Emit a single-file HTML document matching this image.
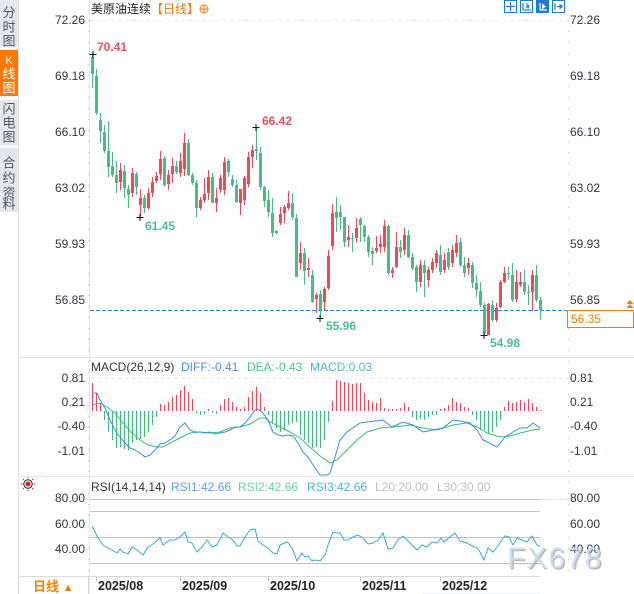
<!DOCTYPE html>
<html><head><meta charset="utf-8"><style>
html,body{margin:0;padding:0;background:#fff;width:634px;height:594px;overflow:hidden}
svg{display:block}
text{font-family:"Liberation Sans","Noto Sans CJK SC",sans-serif}
</style></head><body>
<svg width="634" height="594" viewBox="0 0 634 594" xmlns="http://www.w3.org/2000/svg">
<!-- sidebar -->
<rect x="0" y="0" width="18" height="212" fill="#e4e8ee"/>
<rect x="0" y="47" width="18" height="3" fill="#f6f7f9"/>
<rect x="0" y="50" width="18" height="46" fill="#ff7800"/>
<rect x="0" y="96" width="18" height="4" fill="#f6f7f9"/>
<rect x="0" y="145" width="18" height="3" fill="#f6f7f9"/>
<line x1="18.5" y1="0" x2="18.5" y2="594" stroke="#dfe3e8"/>
<g font-size="13" fill="#555" text-anchor="middle" dominant-baseline="central">
<text x="9" y="12.5">分</text><text x="9" y="27">时</text><text x="9" y="41">图</text>
<text x="9" y="61" fill="#fff" font-size="11" font-family="Liberation Serif">K</text><text x="9" y="74" fill="#fff">线</text><text x="9" y="88" fill="#fff">图</text>
<text x="9" y="109">闪</text><text x="9" y="123">电</text><text x="9" y="137">图</text>
<text x="9" y="163">合</text><text x="9" y="178">约</text><text x="9" y="193">资</text><text x="9" y="204">料</text>
</g>
<!-- structure lines -->
<line x1="89.5" y1="0" x2="89.5" y2="594" stroke="#e2e5ea"/>
<line x1="18" y1="357.5" x2="634" y2="357.5" stroke="#e3e6ea"/>
<line x1="18" y1="476.5" x2="634" y2="476.5" stroke="#e3e6ea"/>
<line x1="18" y1="576.5" x2="540" y2="576.5" stroke="#d6d9de"/>
<line x1="423" y1="593.5" x2="540" y2="593.5" stroke="#eceef1"/>
<line x1="88.5" y1="20" x2="88.5" y2="575" stroke="#c4c8ce" stroke-dasharray="1 10"/>
<line x1="568.5" y1="20" x2="568.5" y2="575" stroke="#c4c8ce" stroke-dasharray="1 10"/>
<line x1="90" y1="20.5" x2="568" y2="20.5" stroke="#e6e8eb" stroke-dasharray="4 3"/>
<line x1="90" y1="378.5" x2="568" y2="378.5" stroke="#e6e8eb" stroke-dasharray="4 3"/>
<!-- title -->
<text x="91" y="13" font-size="12" fill="#222">美原油连续<tspan fill="#f07d00">【日线】</tspan></text>
<circle cx="204" cy="9" r="4" fill="none" stroke="#f07d00"/>
<line x1="200" y1="9" x2="208" y2="9" stroke="#f07d00"/><line x1="204" y1="5" x2="204" y2="13" stroke="#f07d00"/>
<!-- top icons -->
<g stroke="#1f7bd0" fill="#fff">
<rect x="504.5" y="0.5" width="12" height="12"/>
<rect x="520.5" y="0.5" width="12" height="12"/>
<rect x="536.5" y="0.5" width="12" height="12" fill="#1f7bd0"/>
<rect x="552.5" y="0.5" width="12" height="12"/>
</g>
<g stroke="#1f7bd0" stroke-width="1.2">
<line x1="510.5" y1="2" x2="510.5" y2="11"/><line x1="506" y1="6.5" x2="515" y2="6.5"/>
<line x1="523" y1="3" x2="523" y2="10"/><line x1="523" y1="10" x2="531" y2="10"/><line x1="527" y1="3" x2="527" y2="8"/>
<line x1="555" y1="3" x2="555" y2="10"/>
</g>
<path d="M529 4l-2 2.5l2 2.5z" fill="#1f7bd0"/>
<path d="M540 3V10H547" stroke="#fff" fill="none" stroke-width="1.2"/><path d="M542 3.5l4 3l-4 3z" fill="#fff"/>
<path d="M557 6.5H560" stroke="#1f7bd0" stroke-width="1.2"/><path d="M559.5 3.5l3.5 3l-3.5 3z" fill="#1f7bd0"/>
<!-- axis labels -->
<g font-size="12" fill="#2d3640">
<g text-anchor="end">
<text x="85" y="24">72.26</text><text x="85" y="80">69.18</text><text x="85" y="136">66.10</text><text x="85" y="192">63.02</text><text x="85" y="248">59.93</text><text x="85" y="304">56.85</text>
<text x="85" y="382">0.81</text><text x="85" y="406">0.21</text><text x="85" y="430">-0.40</text><text x="85" y="455">-1.01</text>
<text x="85" y="502">80.00</text><text x="85" y="528">60.00</text><text x="85" y="553">40.00</text>
</g>
<text x="570" y="24">72.26</text><text x="570" y="80">69.18</text><text x="570" y="136">66.10</text><text x="570" y="192">63.02</text><text x="570" y="248">59.93</text><text x="570" y="304">56.85</text>
<text x="570" y="382">0.81</text><text x="570" y="406">0.21</text><text x="570" y="430">-0.40</text><text x="570" y="455">-1.01</text>
<text x="570" y="502">80.00</text><text x="570" y="528">60.00</text><text x="570" y="553">40.00</text>
</g>
<!-- current price line -->
<line x1="90" y1="310.5" x2="568" y2="310.5" stroke="#1e88e5" stroke-dasharray="4 2"/>
<rect x="567.5" y="310.5" width="66" height="17" fill="#fff" stroke="#f07d00"/>
<text x="571" y="323" font-size="12" fill="#f07d00">56.35</text>
<path d="M630 300l-3.5 4h7z M630 304l-3.5 4h7z" fill="#f08000"/>
<!-- candles green -->
<path stroke="#4db985" fill="none" d="M92.5 53V88M96.5 69V115M100.5 113V143M104.5 125V153M108.5 121V177M112.5 152V177M116.5 161V193M124.5 165V198M128.5 185V208M136.5 172V195M144.5 195V213M164.5 156V187M176.5 161V174M188.5 139V176M192.5 173V185M196.5 180V217M212.5 173V203M228.5 159V177M232.5 175V187M236.5 180V203M256.5 127V160M260.5 147V190M264.5 186V207M268.5 190V217M272.5 198V237M276.5 230V234M292.5 193V220M296.5 214V277M304.5 248V285M312.5 270V303M320.5 290V318M336.5 197V232M340.5 205V230M344.5 217V247M352.5 233V252M360.5 217V242M364.5 225V242M368.5 235V257M372.5 247V265M388.5 225V275M400.5 240V258M408.5 230V258M412.5 253V270M416.5 265V292M424.5 260V297M440.5 245V275M448.5 248V270M460.5 238V267M464.5 257V277M472.5 262V288M476.5 275V297M480.5 282V307M484.5 303V335M492.5 300V322M508.5 267V280M512.5 263V302M524.5 270V295M528.5 285V305M536.5 265V302M540.5 297V320"/>
<g fill="#4db985">
<rect x="91" y="57" width="3" height="17"/><rect x="95" y="76" width="3" height="37"/><rect x="99" y="120" width="3" height="11"/><rect x="103" y="132" width="3" height="19"/><rect x="107" y="151" width="3" height="16"/><rect x="111" y="166" width="3" height="9"/><rect x="115" y="175" width="3" height="8"/><rect x="123" y="171" width="3" height="17"/><rect x="127" y="189" width="3" height="6"/><rect x="135" y="174" width="3" height="13"/><rect x="143" y="198" width="3" height="10"/><rect x="163" y="158" width="3" height="27"/><rect x="175" y="166" width="3" height="6"/><rect x="187" y="143" width="3" height="32"/><rect x="191" y="175" width="3" height="8"/><rect x="195" y="183" width="3" height="25"/><rect x="211" y="177" width="3" height="26"/><rect x="227" y="161" width="3" height="11"/><rect x="231" y="179" width="3" height="6"/><rect x="235" y="185" width="3" height="17"/><rect x="255" y="149" width="3" height="2"/><rect x="259" y="153" width="3" height="34"/><rect x="263" y="187" width="3" height="14"/><rect x="267" y="200" width="3" height="12"/><rect x="271" y="213" width="3" height="20"/><rect x="275" y="231" width="3" height="2"/><rect x="291" y="203" width="3" height="14"/><rect x="295" y="218" width="3" height="59"/><rect x="303" y="253" width="3" height="18"/><rect x="311" y="275" width="3" height="27"/><rect x="319" y="294" width="3" height="16"/><rect x="335" y="212" width="3" height="6"/><rect x="339" y="212" width="3" height="5"/><rect x="343" y="217" width="3" height="25"/><rect x="351" y="238" width="3" height="1"/><rect x="359" y="219" width="3" height="6"/><rect x="363" y="226" width="3" height="11"/><rect x="367" y="237" width="3" height="15"/><rect x="371" y="251" width="3" height="3"/><rect x="387" y="226" width="3" height="47"/><rect x="399" y="247" width="3" height="5"/><rect x="407" y="235" width="3" height="22"/><rect x="411" y="257" width="3" height="11"/><rect x="415" y="267" width="3" height="15"/><rect x="423" y="265" width="3" height="8"/><rect x="439" y="255" width="3" height="17"/><rect x="447" y="252" width="3" height="15"/><rect x="459" y="242" width="3" height="23"/><rect x="463" y="265" width="3" height="8"/><rect x="471" y="265" width="3" height="18"/><rect x="475" y="283" width="3" height="7"/><rect x="479" y="291" width="3" height="14"/><rect x="483" y="305" width="3" height="28"/><rect x="491" y="305" width="3" height="15"/><rect x="507" y="273" width="3" height="1"/><rect x="511" y="275" width="3" height="25"/><rect x="523" y="282" width="3" height="10"/><rect x="527" y="292" width="3" height="1"/><rect x="535" y="275" width="3" height="25"/><rect x="539" y="300" width="3" height="10"/>
</g>
<!-- candles red -->
<path stroke="#ec4a5b" fill="none" d="M120.5 163V190M132.5 168V197M140.5 189V217M148.5 188V210M152.5 177V197M156.5 172V183M160.5 151V180M168.5 170V190M172.5 158V183M180.5 153V177M184.5 133V176M200.5 197V210M204.5 178V203M208.5 170V200M216.5 188V212M220.5 175V193M224.5 157V195M240.5 189V215M244.5 176V205M248.5 152V187M252.5 145V168M280.5 207V225M284.5 205V223M288.5 191V210M300.5 242V270M308.5 258V277M316.5 293V313M324.5 287V310M328.5 250V290M332.5 204V250M348.5 225V247M356.5 218V243M376.5 236V253M380.5 235V253M384.5 220V252M392.5 267V278M396.5 232V268M404.5 228V255M420.5 260V287M428.5 267V287M432.5 258V273M436.5 250V268M444.5 253V273M452.5 245V267M456.5 235V257M468.5 258V275M488.5 303V335M496.5 303V322M500.5 280V308M504.5 267V283M516.5 270V302M520.5 272V287M532.5 270V311"/>
<g fill="#ec4a5b">
<rect x="119" y="170" width="3" height="12"/><rect x="131" y="173" width="3" height="20"/><rect x="139" y="198" width="3" height="7"/><rect x="147" y="193" width="3" height="15"/><rect x="151" y="182" width="3" height="11"/><rect x="155" y="176" width="3" height="5"/><rect x="159" y="159" width="3" height="15"/><rect x="167" y="175" width="3" height="9"/><rect x="171" y="166" width="3" height="8"/><rect x="179" y="161" width="3" height="12"/><rect x="183" y="143" width="3" height="26"/><rect x="199" y="200" width="3" height="8"/><rect x="203" y="194" width="3" height="6"/><rect x="207" y="177" width="3" height="16"/><rect x="215" y="198" width="3" height="5"/><rect x="219" y="178" width="3" height="12"/><rect x="223" y="162" width="3" height="28"/><rect x="239" y="189" width="3" height="14"/><rect x="243" y="178" width="3" height="22"/><rect x="247" y="157" width="3" height="27"/><rect x="251" y="150" width="3" height="7"/><rect x="279" y="214" width="3" height="9"/><rect x="283" y="207" width="3" height="6"/><rect x="287" y="203" width="3" height="5"/><rect x="299" y="253" width="3" height="10"/><rect x="307" y="268" width="3" height="2"/><rect x="315" y="295" width="3" height="4"/><rect x="323" y="289" width="3" height="13"/><rect x="327" y="256" width="3" height="32"/><rect x="331" y="213" width="3" height="33"/><rect x="347" y="237" width="3" height="3"/><rect x="355" y="228" width="3" height="10"/><rect x="375" y="248" width="3" height="3"/><rect x="379" y="244" width="3" height="3"/><rect x="383" y="226" width="3" height="21"/><rect x="391" y="270" width="3" height="3"/><rect x="395" y="247" width="3" height="20"/><rect x="403" y="235" width="3" height="15"/><rect x="419" y="265" width="3" height="17"/><rect x="427" y="270" width="3" height="10"/><rect x="431" y="262" width="3" height="8"/><rect x="435" y="253" width="3" height="10"/><rect x="443" y="260" width="3" height="10"/><rect x="451" y="250" width="3" height="13"/><rect x="455" y="243" width="3" height="10"/><rect x="467" y="263" width="3" height="5"/><rect x="487" y="304" width="3" height="31"/><rect x="495" y="308" width="3" height="12"/><rect x="499" y="282" width="3" height="25"/><rect x="503" y="273" width="3" height="9"/><rect x="515" y="282" width="3" height="17"/><rect x="519" y="282" width="3" height="3"/><rect x="531" y="275" width="3" height="17"/>
</g>
<!-- extreme markers -->
<path stroke="#111" fill="none" d="M89.5 54.5h7M93 51v7M136.5 217.5h7M140 214v7M252.5 127.5h7M256 124v7M316.5 318.5h7M320 315v7M480.5 335.5h7M484 332v7"/>
<g font-size="12" font-weight="bold">
<text x="97" y="51" fill="#e8505f">70.41</text>
<text x="262" y="125" fill="#e8505f">66.42</text>
<text x="145" y="230" fill="#4dbb97">61.45</text>
<text x="326" y="330" fill="#4dbb97">55.96</text>
<text x="490" y="347" fill="#4dbb97">54.98</text>
</g>
<!-- MACD -->
<text x="91" y="371" font-size="12" fill="#333">MACD(26,12,9) <tspan x="181" fill="#4a90e2">DIFF:-0.41</tspan><tspan x="247" fill="#4fc184">DEA:-0.43</tspan><tspan x="310" fill="#4ab6e8">MACD:0.03</tspan></text>
<path stroke="#ee4455" fill="none" d="M92.5 411V383M96.5 411V393M100.5 411V403M160.5 411V404M164.5 411V405M168.5 411V402M172.5 411V397M176.5 411V395M180.5 411V390M184.5 411V386M188.5 411V392M192.5 411V399M208.5 411V409M220.5 411V405M224.5 411V399M228.5 411V398M232.5 411V402M236.5 411V407M240.5 411V409M244.5 411V407M248.5 411V397M252.5 411V391M256.5 411V387M260.5 411V393M264.5 411V407M332.5 411V401M336.5 411V380M340.5 411V381M344.5 411V382M348.5 411V383M352.5 411V384M356.5 411V383M360.5 411V383M364.5 411V393M368.5 411V400M372.5 411V402M376.5 411V403M380.5 411V398M384.5 411V408M388.5 411V409M392.5 411V409M396.5 411V409M400.5 411V408M404.5 411V403M408.5 411V407M440.5 411V409M444.5 411V408M448.5 411V405M452.5 411V398M456.5 411V402M460.5 411V403M464.5 411V407M468.5 411V408M504.5 411V407M508.5 411V401M512.5 411V403M516.5 411V402M520.5 411V400M524.5 411V402M528.5 411V399M532.5 411V403M536.5 411V407M540.5 411V410"/>
<path stroke="#3dbb77" fill="none" d="M104.5 411V420M108.5 411V432M112.5 411V440M116.5 411V448M120.5 411V447M124.5 411V449M128.5 411V450M132.5 411V443M136.5 411V440M140.5 411V439M144.5 411V437M148.5 411V432M152.5 411V425M156.5 411V417M196.5 411V413M200.5 411V415M204.5 411V414M212.5 411V413M216.5 411V414M268.5 411V415M272.5 411V423M276.5 411V428M280.5 411V432M284.5 411V430M288.5 411V425M292.5 411V423M296.5 411V422M300.5 411V435M304.5 411V440M308.5 411V443M312.5 411V448M316.5 411V447M320.5 411V448M324.5 411V440M328.5 411V422M412.5 411V417M416.5 411V420M420.5 411V419M424.5 411V420M428.5 411V417M432.5 411V415M436.5 411V415M472.5 411V415M476.5 411V420M480.5 411V430M484.5 411V430M488.5 411V433M492.5 411V432M496.5 411V427M500.5 411V420"/>
<polyline fill="none" stroke="#3bbb78" stroke-width="1" points="92,405 100,403 107,407 115,413 123,423 132,433 140,440 148,445 157,447 163,447 170,443 180,438 190,433 200,432 210,433 220,432 230,428 240,427 250,424 260,418 265,418 270,422 280,427 290,432 300,438 310,447 320,456 330,463 337,460 347,450 357,440 367,432 380,428 393,427 410,425 423,428 437,430 453,425 467,423 477,427 487,433 500,437 510,436 520,433 533,430 540,429"/>
<polyline fill="none" stroke="#3a8ee6" stroke-width="1" points="92,393 97,393 100,400 105,408 110,420 115,430 120,437 125,443 130,448 135,450 140,453 145,457 150,455 155,450 160,444 165,443 170,440 175,436 180,427 185,423 190,430 195,432 200,432 205,433 210,432 215,434 220,433 225,432 230,430 235,427 240,427 245,423 250,417 255,410 258,409 263,413 268,420 273,432 278,435 283,436 288,435 293,436 298,443 303,452 308,457 313,465 320,475 327,475 330,473 335,457 340,440 347,432 360,423 367,422 375,421 383,420 392,427 403,422 413,425 423,432 433,430 443,428 453,420 460,421 470,423 477,430 483,440 493,445 497,447 505,437 513,432 520,428 527,428 533,423 540,428"/>
<!-- RSI -->
<g transform="translate(28,484)">
<circle r="4.2" fill="none" stroke="#222" stroke-width="1"/>
<circle r="2.5" fill="#e02020"/>
<path stroke="#e02020" d="M0 -7V-5.5M0 5.5V7M-7 0H-5.5M5.5 0H7M-5 -5l1 1M4 4l1 1M-5 5l1 -1M4 -4l1 -1"/>
</g>
<text x="91" y="491" font-size="12" fill="#333">RSI(14,14,14) <tspan x="171" fill="#5a9ef0">RSI1:42.66</tspan><tspan x="238" fill="#6fd0a0">RSI2:42.66</tspan><tspan x="307" fill="#48b3e6">RSI3:42.66</tspan><tspan x="375" fill="#bdbdbd">L20:20.00</tspan><tspan x="437" fill="#bdbdbd">L30:30.00</tspan></text>
<g stroke="#c2c2c2">
<line x1="90" y1="499.5" x2="540" y2="499.5"/>
<line x1="540" y1="499.5" x2="568" y2="499.5" stroke="#dedede" stroke-dasharray="3 2"/>
<line x1="90" y1="511.5" x2="540" y2="511.5"/>
<line x1="90" y1="537.5" x2="540" y2="537.5"/>
<line x1="90" y1="563.5" x2="540" y2="563.5"/>
</g>
<polyline fill="none" stroke="#35a9e0" stroke-width="1" points="92,526 97,536 103,545 110,549 117,553 120,549 123,552 128,554 132,547 137,550 143,555 148,547 153,544 160,538 163,545 170,540 175,540 180,537 185,532 188,542 192,543 197,552 202,547 207,540 212,547 217,545 223,533 228,537 233,540 237,546 240,546 245,537 250,530 255,529 258,541 263,545 268,548 273,553 277,554 280,545 287,542 290,545 293,550 297,561 302,553 305,557 308,556 312,561 315,560 320,561 325,555 328,545 333,532 337,533 340,533 344,540 348,540 353,537 358,535 363,538 368,544 373,543 378,540 383,533 388,549 393,548 398,540 403,536 410,543 417,550 422,545 427,547 432,542 437,543 441,538 444,542 450,537 455,533 460,541 467,543 472,546 477,548 480,552 484,560 488,548 493,552 497,547 502,540 505,536 509,537 513,545 517,538 522,540 527,542 532,536 537,545 540,546"/>
<!-- x axis -->
<path stroke="#bbb" d="M96.5 577v4M180.5 577v4M268.5 577v4M360.5 577v4M440.5 577v4"/>
<g font-size="12.5" font-weight="bold" fill="#222">
<text x="98" y="590">2025/08</text><text x="182" y="590">2025/09</text><text x="270" y="590">2025/10</text><text x="362" y="590">2025/11</text><text x="442" y="590">2025/12</text>
</g>
<rect x="18.5" y="576.5" width="70" height="18" fill="#fff" stroke="#d8dce2"/>
<text x="33" y="591" font-size="13" font-weight="bold" fill="#f08300">日线 <tspan font-size="11">▲</tspan></text>
<!-- watermark -->
<text x="508.5" y="569.5" font-size="30" letter-spacing="1.5" fill="#9aa0a8" opacity="0.7">FX678</text>
<text x="507" y="568" font-size="30" letter-spacing="1.5" fill="#d2dcee" opacity="0.92">FX678</text>
</svg>
</body></html>
